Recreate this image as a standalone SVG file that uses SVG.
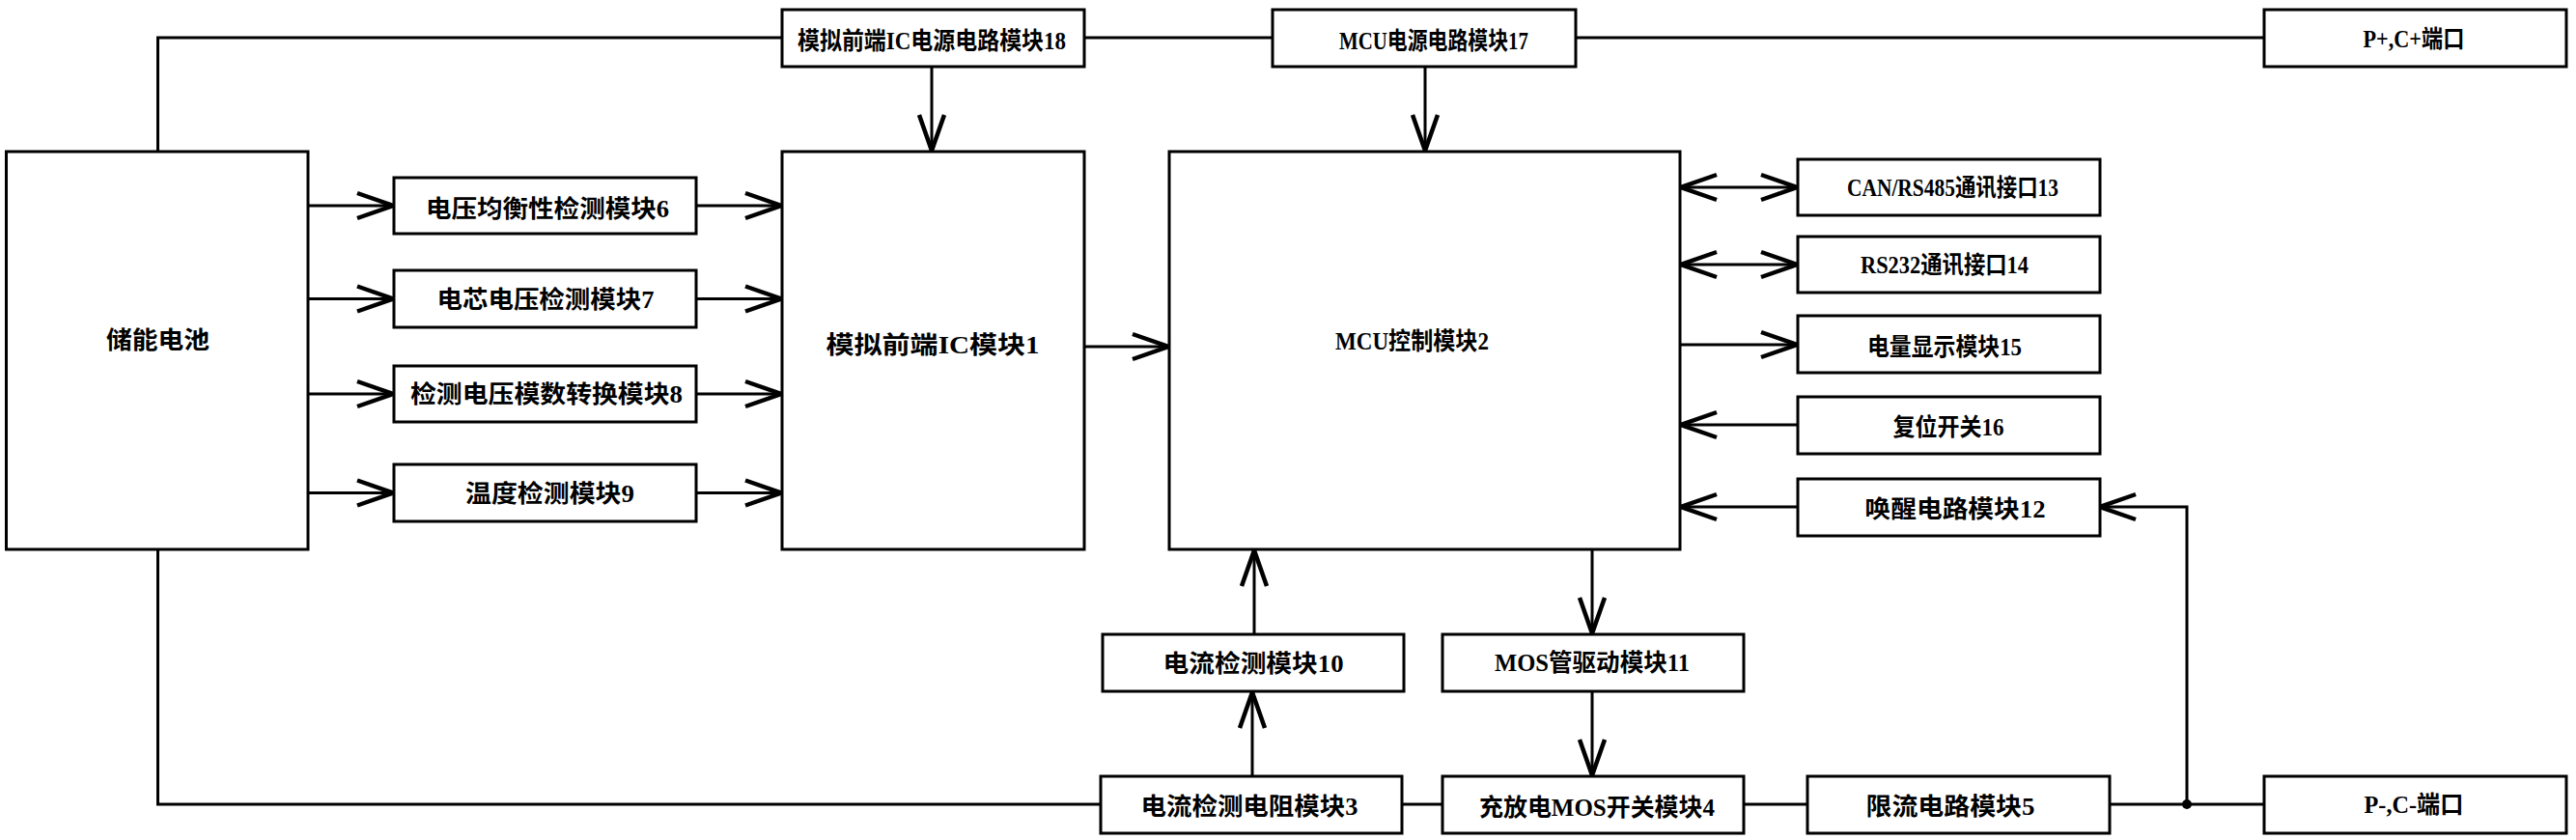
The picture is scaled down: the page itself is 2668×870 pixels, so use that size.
<svg xmlns="http://www.w3.org/2000/svg" width="2668" height="870" viewBox="0 0 2668 870">
<style>
.box{fill:#fff;stroke:#000;stroke-width:3}
.ln{fill:none;stroke:#000;stroke-width:3}
.ar{fill:none;stroke:#000;stroke-width:3;marker-end:url(#ah)}
.da{fill:none;stroke:#000;stroke-width:3;marker-end:url(#ah);marker-start:url(#ahs)}
text{font-family:"Liberation Serif","Noto Sans CJK SC",serif;font-size:25px;font-weight:600;fill:#000;text-anchor:middle}
</style>
<defs>
<marker id="ah" markerUnits="userSpaceOnUse" markerWidth="44" markerHeight="34" refX="39" refY="17" orient="auto">
<path d="M2,4 L39,17 L2,30" fill="none" stroke="#000" stroke-width="4.5"/>
</marker>
<marker id="ahs" markerUnits="userSpaceOnUse" markerWidth="44" markerHeight="34" refX="5" refY="17" orient="auto">
<path d="M42,4 L5,17 L42,30" fill="none" stroke="#000" stroke-width="4.5"/>
</marker>
</defs>
<rect width="2668" height="870" fill="#fff"/>
<g id="connectors">
<path class="ln" d="M163.5,157 V39 H810 M1123,39 H1318 M1632,39 H2345"/>
<path class="ln" d="M163.5,569 V833 H1140 M1452,833 H1494 M1806,833 H1872 M2185,833 H2345"/>
<circle cx="2265" cy="833" r="5" fill="#000"/>
<path class="ar" d="M2265,833 V525 H2175"/>
<path class="ar" d="M319,213 H407"/>
<path class="ar" d="M319,309.5 H407"/>
<path class="ar" d="M319,408 H407"/>
<path class="ar" d="M319,510.5 H407"/>
<path class="ar" d="M721,213 H809"/>
<path class="ar" d="M721,309.5 H809"/>
<path class="ar" d="M721,408 H809"/>
<path class="ar" d="M721,510.5 H809"/>
<path class="ar" d="M1123,359 H1210"/>
<path class="ar" d="M965,69 V156"/>
<path class="ar" d="M1476,69 V156"/>
<path class="da" d="M1741,194 H1861"/>
<path class="da" d="M1741,274 H1861"/>
<path class="ar" d="M1740,357 H1861"/>
<path class="ar" d="M1862,440 H1741"/>
<path class="ar" d="M1862,525 H1741"/>
<path class="ar" d="M1299,657 V570"/>
<path class="ar" d="M1649,569 V656"/>
<path class="ar" d="M1297,804 V717"/>
<path class="ar" d="M1649,716 V803"/>
</g>
<g id="battery"><rect class="box" x="6.5" y="157" width="312.5" height="412"/><text x="163.5" y="361" textLength="107" lengthAdjust="spacingAndGlyphs">储能电池</text></g>
<g id="m6"><rect class="box" x="408" y="184" width="313" height="58"/><text x="567" y="224.5" textLength="252" lengthAdjust="spacingAndGlyphs">电压均衡性检测模块6</text></g>
<g id="m7"><rect class="box" x="408" y="280" width="313" height="59"/><text x="565" y="318.5" textLength="225" lengthAdjust="spacingAndGlyphs">电芯电压检测模块7</text></g>
<g id="m8"><rect class="box" x="408" y="379" width="313" height="58"/><text x="566" y="417" textLength="282" lengthAdjust="spacingAndGlyphs">检测电压模数转换模块8</text></g>
<g id="m9"><rect class="box" x="408" y="481" width="313" height="59"/><text x="569.5" y="520" textLength="175" lengthAdjust="spacingAndGlyphs">温度检测模块9</text></g>
<g id="m1"><rect class="box" x="810" y="157" width="313" height="412"/><text x="966" y="366" textLength="221" lengthAdjust="spacingAndGlyphs">模拟前端IC模块1</text></g>
<g id="m2"><rect class="box" x="1211" y="157" width="529" height="412"/><text x="1462.5" y="362" textLength="159" lengthAdjust="spacingAndGlyphs">MCU控制模块2</text></g>
<g id="m18"><rect class="box" x="810" y="10" width="313" height="59"/><text x="965" y="51" textLength="278" lengthAdjust="spacingAndGlyphs">模拟前端IC电源电路模块18</text></g>
<g id="m17"><rect class="box" x="1318" y="10" width="314" height="59"/><text x="1485" y="51" textLength="196" lengthAdjust="spacingAndGlyphs">MCU电源电路模块17</text></g>
<g id="pplus"><rect class="box" x="2345" y="10" width="313" height="59"/><text x="2500" y="49" textLength="105" lengthAdjust="spacingAndGlyphs">P+,C+端口</text></g>
<g id="m13"><rect class="box" x="1862" y="165" width="313" height="58"/><text x="2022.5" y="203" textLength="219" lengthAdjust="spacingAndGlyphs">CAN/RS485通讯接口13</text></g>
<g id="m14"><rect class="box" x="1862" y="245" width="313" height="58"/><text x="2014" y="283" textLength="174" lengthAdjust="spacingAndGlyphs">RS232通讯接口14</text></g>
<g id="m15"><rect class="box" x="1862" y="327" width="313" height="59"/><text x="2014" y="368" textLength="160" lengthAdjust="spacingAndGlyphs">电量显示模块15</text></g>
<g id="m16"><rect class="box" x="1862" y="411" width="313" height="59"/><text x="2018" y="451" textLength="115" lengthAdjust="spacingAndGlyphs">复位开关16</text></g>
<g id="m12"><rect class="box" x="1862" y="496" width="313" height="59"/><text x="2025" y="536" textLength="187" lengthAdjust="spacingAndGlyphs">唤醒电路模块12</text></g>
<g id="m10"><rect class="box" x="1142" y="657" width="312" height="59"/><text x="1298" y="695.5" textLength="187" lengthAdjust="spacingAndGlyphs">电流检测模块10</text></g>
<g id="m11"><rect class="box" x="1494" y="657" width="312" height="59"/><text x="1649" y="695" textLength="202" lengthAdjust="spacingAndGlyphs">MOS管驱动模块11</text></g>
<g id="m3"><rect class="box" x="1140" y="804" width="312" height="59"/><text x="1294" y="844" textLength="225" lengthAdjust="spacingAndGlyphs">电流检测电阻模块3</text></g>
<g id="m4"><rect class="box" x="1494" y="804" width="312" height="59"/><text x="1654" y="845" textLength="244" lengthAdjust="spacingAndGlyphs">充放电MOS开关模块4</text></g>
<g id="m5"><rect class="box" x="1872" y="804" width="313" height="59"/><text x="2020" y="844" textLength="175" lengthAdjust="spacingAndGlyphs">限流电路模块5</text></g>
<g id="pminus"><rect class="box" x="2345" y="804" width="313" height="59"/><text x="2500" y="842" textLength="103" lengthAdjust="spacingAndGlyphs">P-,C-端口</text></g>
</svg>
